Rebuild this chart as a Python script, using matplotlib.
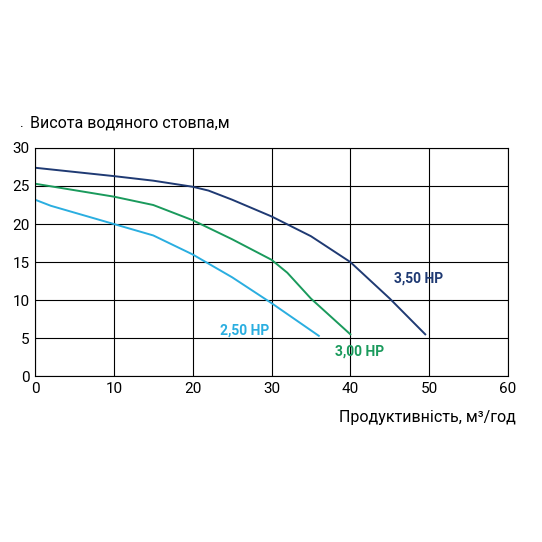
import matplotlib.pyplot as plt

plt.rcParams['font.family'] = ['Roboto', 'DejaVu Sans']

# curves
hp350_x = [0, 10, 15, 20, 22, 25, 30, 35, 40, 45, 49.5]
hp350_y = [27.4, 26.3, 25.7, 24.9, 24.4, 23.2, 21.0, 18.4, 15.0, 10.2, 5.5]
hp300_x = [0, 10, 15, 20, 25, 30, 32, 35, 40]
hp300_y = [25.3, 23.6, 22.5, 20.5, 18.0, 15.3, 13.6, 10.2, 5.5]
hp250_x = [0, 2, 10, 15, 20, 25, 30, 36]
hp250_y = [23.2, 22.4, 20.0, 18.5, 16.0, 13.0, 9.6, 5.3]

fig = plt.figure(figsize=(5.42, 5.42), dpi=100)
ax = fig.add_axes([0.0646, 0.306, 0.8727, 0.421])

ax.plot(hp350_x, hp350_y, color='#1f3a73', lw=1.4)
ax.plot(hp300_x, hp300_y, color='#1a9a5c', lw=1.4)
ax.plot(hp250_x, hp250_y, color='#2aaee0', lw=1.4)

ax.set_xlim(0, 60)
ax.set_ylim(0, 30)
ax.set_xticks(range(0, 61, 10))
ax.set_yticks(range(0, 31, 5))
ax.grid(True, color='black', lw=0.8)
ax.set_axisbelow(True)
ax.tick_params(labelsize=11, length=0, pad=4)
for s in ax.spines.values():
    s.set_color('black')
    s.set_linewidth(0.8)

ax.text(45.5, 12.3, '3,50 HP', color='#1f3a73', fontsize=10, fontweight='bold')
ax.text(38, 2.7, '3,00 HP', color='#1a9a5c', fontsize=10, fontweight='bold')
ax.text(23.5, 5.5, '2,50 HP', color='#2aaee0', fontsize=10, fontweight='bold')

fig.text(0.037, 0.765, '.', fontsize=10)
fig.text(0.055, 0.765, 'Висота водяного стовпа,м', fontsize=11.5)
fig.text(0.952, 0.222, 'Продуктивність, м³/год', fontsize=11.5, ha='right')

fig.savefig('out.png', dpi=100, facecolor='white')
